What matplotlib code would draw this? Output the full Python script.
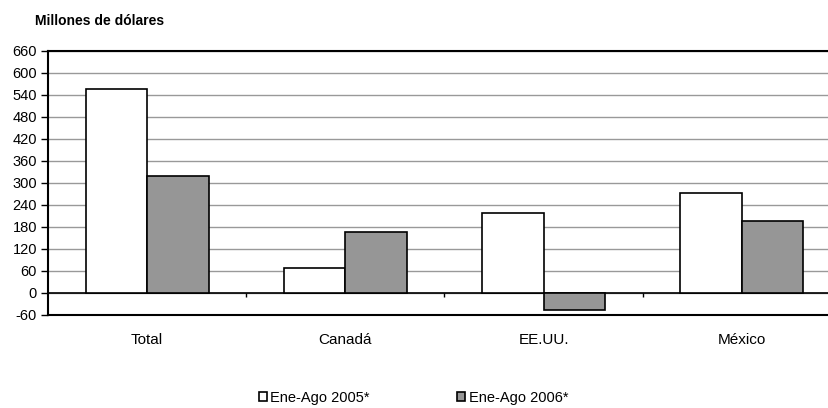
import matplotlib
matplotlib.use("Agg")
import matplotlib.pyplot as plt
import numpy as np

plt.rcParams['font.family'] = ['Liberation Sans', 'DejaVu Sans']

categories = ["Total", "Canadá", "EE.UU.", "México"]
series_names = ["Ene-Ago 2005*", "Ene-Ago 2006*"]
values_2005 = [556, 68, 218, 273]
values_2006 = [319, 166, -46, 196]
yticks = list(range(-60, 661, 60))

fig = plt.figure(figsize=(8.29, 4.08), dpi=100)
ax = fig.add_axes([48/829, 93/408, 793/829, 264/408])

x = np.arange(len(categories))
w = 0.31
ax.bar(x - w/2, values_2005, w, color="white", edgecolor="black", linewidth=1.2,
       label=series_names[0], zorder=3)
ax.bar(x + w/2, values_2006, w, color="#969696", edgecolor="black", linewidth=1.2,
       label=series_names[1], zorder=3)

ax.set_xlim(-0.5, len(categories) - 0.5)
ax.set_ylim(-60, 660)
ax.set_yticks(yticks)
ax.set_yticklabels([str(v) for v in yticks], fontsize=10.5)
ax.yaxis.grid(True, color="#999999", linewidth=1, zorder=0)
ax.set_axisbelow(True)
ax.axhline(0, color="black", linewidth=1.2, zorder=2)
ax.vlines(np.arange(len(categories) - 1) + 0.5, -11, 0, color="black", linewidth=1, zorder=2)

ax.set_xticks(x)
ax.set_xticklabels(categories, fontsize=11)
ax.tick_params(axis="x", length=0, pad=13)
ax.tick_params(axis="y", length=5, width=1, direction="out", pad=3)

for s in ["left", "top", "bottom"]:
    ax.spines[s].set_color("black")
    ax.spines[s].set_linewidth(1.5)
ax.spines["right"].set_visible(False)

fig.text(35/829, 1 - 25/408, "Millones de dólares", fontsize=10, fontweight="bold",
         va="baseline", ha="left")

fig.legend(loc="center", bbox_to_anchor=(0.499, 10/408), ncol=2, frameon=False,
           fontsize=10.5, handlelength=0.55, handleheight=0.55, handletextpad=0.25,
           columnspacing=6.0, borderpad=0)

fig.savefig("out.png", dpi=100)
